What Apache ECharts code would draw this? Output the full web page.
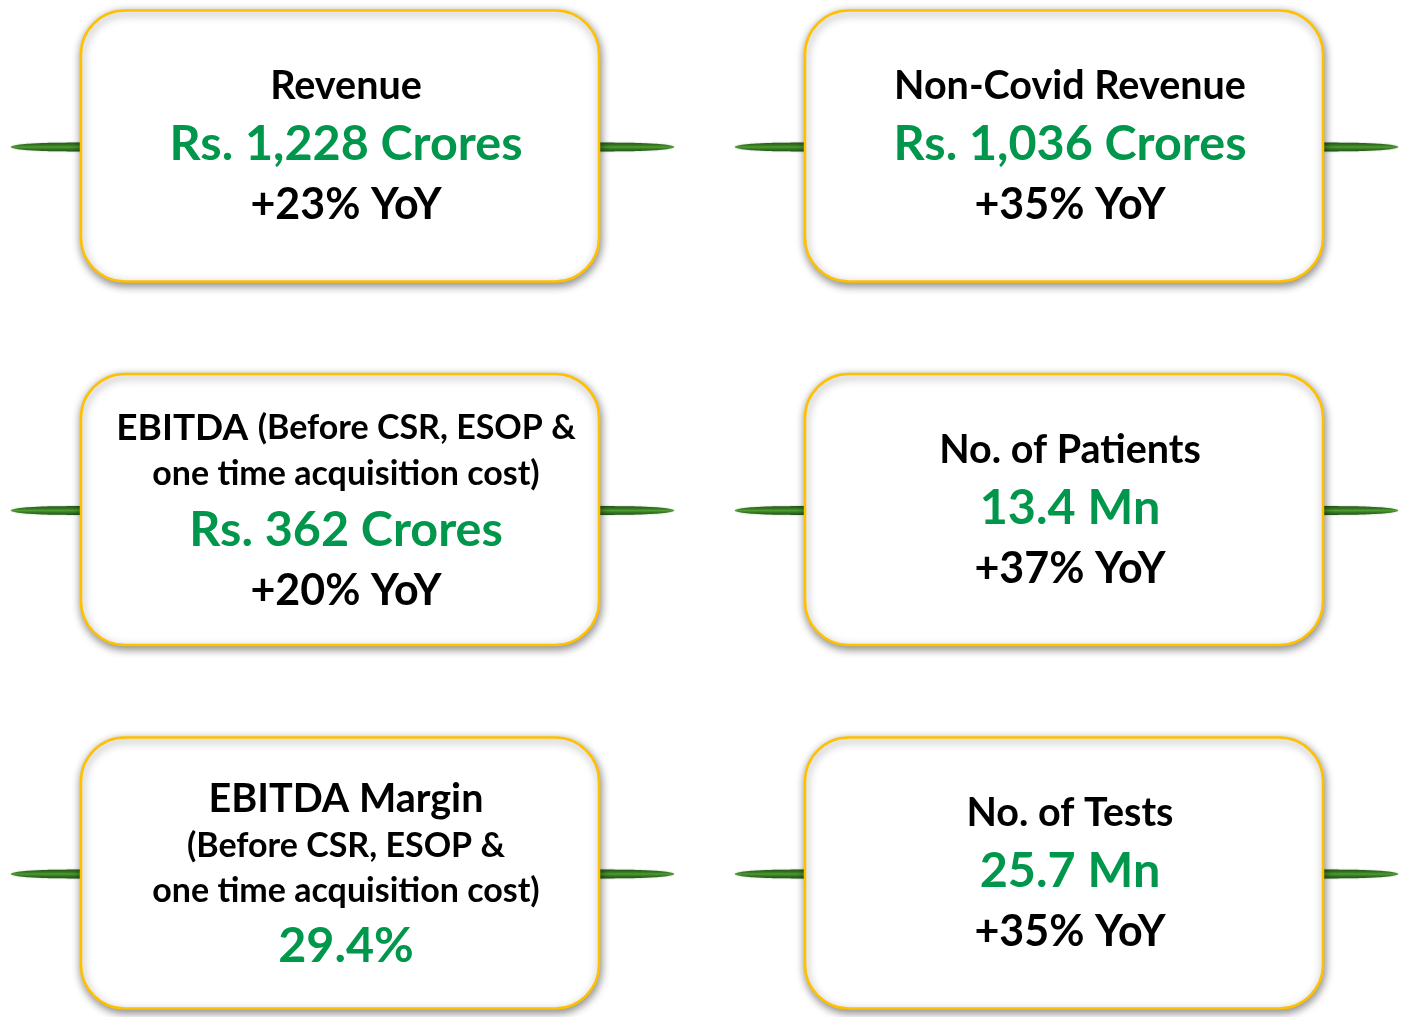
<!DOCTYPE html>
<html>
<head>
<meta charset="utf-8">
<script src="https://cdn.jsdelivr.net/npm/echarts@6/dist/echarts.min.js"></script>
<style>
html,body{margin:0;padding:0;background:#fff;}
#main{width:1409px;height:1017px;}
</style>
</head>
<body>
<div id="main"></div>
<script>
// ---- data ----
const titles = ['Revenue', 'Non-Covid Revenue', 'EBITDA', 'No. of Patients', 'EBITDA Margin', 'No. of Tests'];
const notes = [[], [], ['(Before CSR, ESOP &', 'one time acquisition cost)'], [], ['(Before CSR, ESOP &', 'one time acquisition cost)'], []];
const noteInline = [false, false, true, false, false, false];
const values = ['Rs. 1,228 Crores', 'Rs. 1,036 Crores', 'Rs. 362 Crores', '13.4 Mn', '29.4%', '25.7 Mn'];
const growth = ['+23% YoY', '+35% YoY', '+20% YoY', '+37% YoY', '', '+35% YoY'];

// ---- styling ----
const FONT = 'Lato, "Open Sans", sans-serif';
const GREEN = '#00964B';
const SIZES = { title: 39.5, titleInline: 37, note: 34, value: 48.5, growth: 43 };
const GAPS = { 'title-note': 46.5, 'title-value': 58, 'note-note': 45, 'note-value': 56, 'value-growth': 60.5 };
const BOX_W = 518, BOX_H = 271, BOX_R = 44;

function spindle(baseX, cy, dir, len) {
  const pts = [];
  const n = 30, h0 = 4.4;
  const hf = t => Math.max(0.6, h0 * Math.sqrt(Math.max(0, 1 - Math.pow(t, 2.8))));
  for (let k = 0; k <= n; k++) {
    const t = k / n;
    pts.push([baseX + dir * len * t, cy - hf(t)]);
  }
  for (let k = n; k >= 0; k--) {
    const t = k / n;
    pts.push([baseX + dir * len * t, cy + hf(t)]);
  }
  return {
    type: 'polygon',
    shape: { points: pts },
    style: {
      fill: new echarts.graphic.LinearGradient(0, 0, 0, 1, [
        { offset: 0, color: '#24561a' },
        { offset: 0.3, color: '#35781f' },
        { offset: 0.5, color: '#4f9c34' },
        { offset: 0.7, color: '#367a22' },
        { offset: 1, color: '#22521a' }
      ]),
      shadowBlur: 2, shadowColor: 'rgba(40,90,30,0.35)'
    }
  };
}

function buildLines(i) {
  const lines = [];
  if (noteInline[i] && notes[i].length) {
    lines.push({ kind: 'title', rich: true, text: '{t|' + titles[i] + '} {n|' + notes[i][0] + '}' });
    notes[i].slice(1).forEach(s => lines.push({ kind: 'note', text: s }));
  } else {
    lines.push({ kind: 'title', text: titles[i] });
    notes[i].forEach(s => lines.push({ kind: 'note', text: s }));
  }
  lines.push({ kind: 'value', text: values[i] });
  if (growth[i]) lines.push({ kind: 'growth', text: growth[i] });
  let y = 0;
  lines[0].y = 0;
  for (let k = 1; k < lines.length; k++) {
    y += GAPS[lines[k - 1].kind + '-' + lines[k].kind];
    lines[k].y = y;
  }
  const mid = y / 2;
  lines.forEach(l => l.y -= mid);
  return lines;
}

function renderItem(params, api) {
  const i = params.dataIndex;
  const c = api.coord([api.value(0), api.value(1)]);
  const cx = c[0], cy = c[1];
  const x0 = cx - BOX_W / 2, x1 = cx + BOX_W / 2;
  const children = [
    spindle(x0 + 1, cy + 1, -1, 71),
    spindle(x1 - 1, cy + 1, 1, 76),
    {
      type: 'rect',
      shape: { x: x0, y: cy - BOX_H / 2, width: BOX_W, height: BOX_H, r: BOX_R },
      style: {
        fill: '#ffffff', stroke: '#FFC000', lineWidth: 2.5,
        shadowBlur: 9, shadowColor: 'rgba(0,0,0,0.45)', shadowOffsetX: 1, shadowOffsetY: 3
      }
    }
  ];
  buildLines(i).forEach(l => {
    const st = {
      x: cx + 6, y: cy + l.y, align: 'center', verticalAlign: 'middle',
      text: l.text, fontFamily: FONT, fontWeight: 'bold',
      fontSize: SIZES[l.kind], fill: l.kind === 'value' ? GREEN : '#000'
    };
    if (l.rich) {
      st.rich = {
        t: { fontSize: SIZES.titleInline, fontFamily: FONT, fontWeight: 'bold', fill: '#000' },
        n: { fontSize: SIZES.note, fontFamily: FONT, fontWeight: 'bold', fill: '#000' }
      };
    }
    children.push({ type: 'text', style: st });
  });
  return { type: 'group', children };
}

const chart = echarts.init(document.getElementById('main'), null, { renderer: 'canvas' });
chart.setOption({
  backgroundColor: '#ffffff',
  animation: false,
  grid: { left: 340, width: 724, top: 146, height: 727 },
  xAxis: { type: 'value', min: 0, max: 1, show: false },
  yAxis: { type: 'value', min: 0, max: 2, inverse: true, show: false },
  series: [{
    type: 'custom',
    clip: false,
    renderItem: renderItem,
    data: titles.map((t, i) => [i % 2, Math.floor(i / 2)])
  }]
});
</script>
</body>
</html>
